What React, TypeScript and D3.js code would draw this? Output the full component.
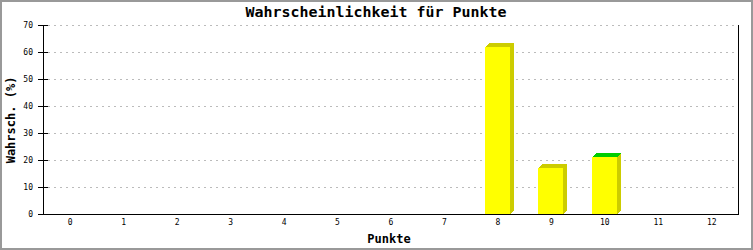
import React, { useEffect } from "react";
import * as d3 from "d3";

const categories = ["0", "1", "2", "3", "4", "5", "6", "7", "8", "9", "10", "11", "12"];
const values = [0, 0, 0, 0, 0, 0, 0, 0, 62, 17, 21, 0, 0];
const highlight = [false, false, false, false, false, false, false, false, false, false, true, false, false];
const yTicks = [0, 10, 20, 30, 40, 50, 60, 70];

const W = 753;
const H = 250;
const left = 43;
const right = 738;
const top = 25;
const bottom = 214;
const depth = 4;
const mono = "'DejaVu Sans Mono', 'Liberation Mono', monospace";

export default function App() {
  useEffect(() => {
    document.body.style.margin = "0";
  }, []);

  const x = d3.scaleBand<string>().domain(categories).range([left, right]).paddingInner(0).paddingOuter(0);
  const y = d3.scaleLinear().domain([0, 70]).range([bottom, top]);
  const barW = 25;

  return (
    <svg width={W} height={H} style={{ display: "block" }} shapeRendering="crispEdges">
      <rect x={0} y={0} width={W} height={H} fill="#fff" />
      <rect x={1} y={1} width={W - 2} height={H - 2} fill="none" stroke="#999" strokeWidth={2} />
      <text x={376} y={17} textAnchor="middle" fontFamily={mono} fontSize={14} fontWeight="bold" textLength={261} lengthAdjust="spacingAndGlyphs">Wahrscheinlichkeit für Punkte</text>
      {yTicks.filter((t) => t > 0).map((t) => (
        <line key={"g" + t} x1={left + 5} x2={right} y1={y(t) + 0.5} y2={y(t) + 0.5} stroke="#bbb" strokeDasharray="2,4" />
      ))}
      {categories.map((c, i) => {
        const v = values[i];
        if (v <= 0) return null;
        const cx = (x(c) as number) + x.bandwidth() / 2;
        const x0 = Math.round(cx - barW / 2);
        const x1 = x0 + barW;
        const yt = Math.round(y(v));
        const topCol = highlight[i] ? "#00cc00" : "#cccc00";
        return (
          <g key={"b" + c}>
            <polygon points={`${x1},${yt} ${x1 + depth},${yt - depth} ${x1 + depth},${bottom - depth} ${x1},${bottom}`} fill="#cccc00" />
            <polygon points={`${x0},${yt} ${x0 + depth},${yt - depth} ${x1 + depth},${yt - depth} ${x1},${yt}`} fill={topCol} />
            <rect x={x0} y={yt} width={barW} height={bottom - yt} fill="#ffff00" />
          </g>
        );
      })}
      <line x1={left + 0.5} x2={left + 0.5} y1={top} y2={bottom} stroke="#000" />
      <line x1={right + 0.5} x2={right + 0.5} y1={top} y2={bottom + 1} stroke="#000" />
      <line x1={left - 5} x2={right + 1} y1={bottom + 0.5} y2={bottom + 0.5} stroke="#000" />
      {yTicks.map((t) => (
        <g key={"t" + t}>
          <line x1={left - 5} x2={left + 5} y1={y(t) + 0.5} y2={y(t) + 0.5} stroke="#000" />
          <text x={33} y={y(t) + 3} textAnchor="end" fontFamily={mono} fontSize={8}>{t}</text>
        </g>
      ))}
      {categories.map((c) => (
        <text key={"x" + c} x={(x(c) as number) + x.bandwidth() / 2 + 0.5} y={225} textAnchor="middle" fontFamily={mono} fontSize={8}>{c}</text>
      ))}
      <text x={389} y={243} textAnchor="middle" fontFamily={mono} fontSize={12} fontWeight="bold">Punkte</text>
      <text transform={`translate(15,120) rotate(-90)`} textAnchor="middle" fontFamily={mono} fontSize={12} fontWeight="bold">Wahrsch. (%)</text>
    </svg>
  );
}
